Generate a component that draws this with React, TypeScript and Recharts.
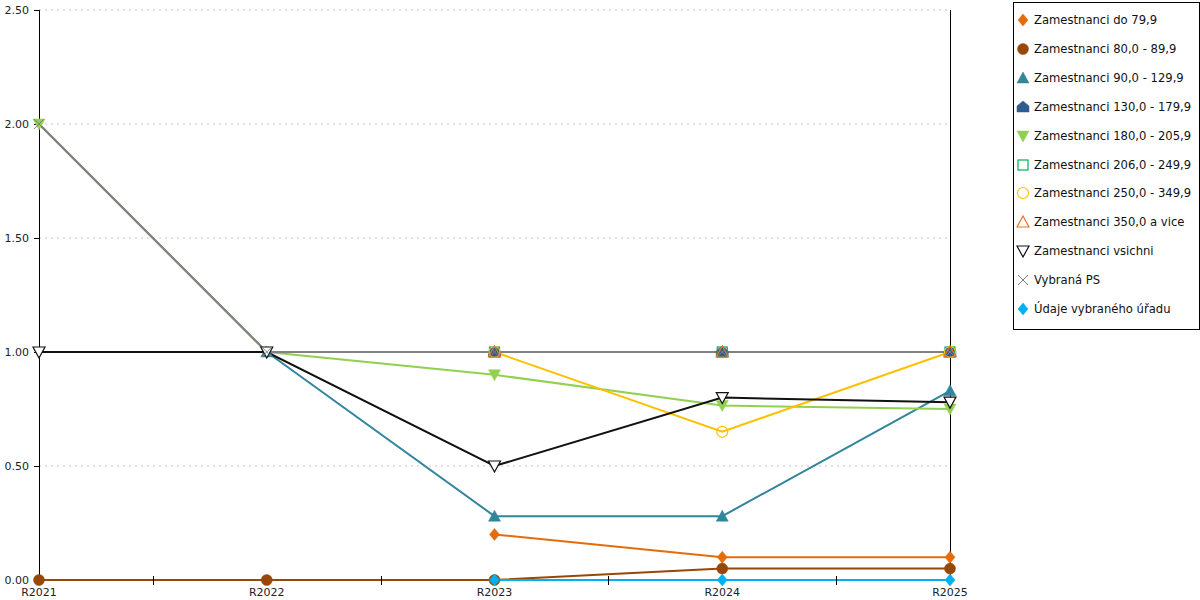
// Spojnicový graf zaměstnanců R2021–R2025 (Recharts)
import React from 'react'
import { LineChart, Line, XAxis, YAxis, CartesianGrid } from 'recharts'

const categories = ['R2021', 'R2022', 'R2023', 'R2024', 'R2025']
const do79 = [null, null, 0.2, 0.1, 0.1]
const z80 = [0, 0, 0, 0.05, 0.05]
const z90 = [null, 1, 0.28, 0.28, 0.83]
const z130 = [null, null, 1, 1, 1]
const z180 = [2, 1, 0.9, 0.765, 0.75]
const z206 = [null, null, 1, 1, 1]
const z250 = [null, null, 1, 0.65, 1]
const z350 = [null, null, 1, 1, 1]
const vsichni = [1, 1, 0.5, 0.8, 0.78]
const vybranaPS = [2, 1, 1, 1, 1]
const urad = [null, null, 0, 0, 0]
const yTicks = [0, 0.5, 1, 1.5, 2, 2.5]

type Shape = 'diamond' | 'circle' | 'tri' | 'house' | 'tridown' | 'square' | 'x'

const series: { key: string; name: string; values: (number | null)[]; color: string; shape: Shape; filled: boolean; width?: number }[] = [
  { key: 'do79', name: 'Zamestnanci do 79,9', values: do79, color: '#e46c0a', shape: 'diamond', filled: true },
  { key: 'z80', name: 'Zamestnanci 80,0 - 89,9', values: z80, color: '#974806', shape: 'circle', filled: true },
  { key: 'z90', name: 'Zamestnanci 90,0 - 129,9', values: z90, color: '#31859c', shape: 'tri', filled: true },
  { key: 'z130', name: 'Zamestnanci 130,0 - 179,9', values: z130, color: '#2f5b8f', shape: 'house', filled: true },
  { key: 'z180', name: 'Zamestnanci 180,0 - 205,9', values: z180, color: '#92d050', shape: 'tridown', filled: true },
  { key: 'z206', name: 'Zamestnanci 206,0 - 249,9', values: z206, color: '#00b050', shape: 'square', filled: false },
  { key: 'z250', name: 'Zamestnanci 250,0 - 349,9', values: z250, color: '#ffc000', shape: 'circle', filled: false },
  { key: 'z350', name: 'Zamestnanci 350,0 a vice', values: z350, color: '#f0702a', shape: 'tri', filled: false },
  { key: 'vsichni', name: 'Zamestnanci vsichni', values: vsichni, color: '#111', shape: 'tridown', filled: false },
  { key: 'ps', name: 'Vybraná PS', values: vybranaPS, color: '#808080', shape: 'x', filled: false, width: 2.2 },
  { key: 'urad', name: 'Údaje vybraného úřadu', values: urad, color: '#00b0f0', shape: 'diamond', filled: true },
]

const data = categories.map((c, i) => {
  const row: any = { name: c }
  series.forEach((s) => { row[s.key] = s.values[i] })
  return row
})

function Marker({ cx, cy, shape, color, filled }: { cx: number; cy: number; shape: Shape; color: string; filled: boolean }) {
  const fill = filled ? color : 'none'
  const sw = filled ? 0.5 : 1.2
  switch (shape) {
    case 'diamond':
      return <polygon points={`${cx},${cy - 6} ${cx + 5},${cy} ${cx},${cy + 6} ${cx - 5},${cy}`} fill={fill} stroke={color} strokeWidth={sw} />
    case 'circle':
      return <circle cx={cx} cy={cy} r={5.5} fill={fill} stroke={color} strokeWidth={sw} />
    case 'tri':
      return <polygon points={`${cx},${cy - 6} ${cx + 6},${cy + 5} ${cx - 6},${cy + 5}`} fill={fill} stroke={color} strokeWidth={sw} />
    case 'house':
      return <polygon points={`${cx},${cy - 6} ${cx + 6},${cy - 1} ${cx + 6},${cy + 5} ${cx - 6},${cy + 5} ${cx - 6},${cy - 1}`} fill={fill} stroke={color} strokeWidth={sw} />
    case 'tridown':
      return <polygon points={`${cx - 6},${cy - 5} ${cx + 6},${cy - 5} ${cx},${cy + 6}`} fill={fill === 'none' ? '#fff' : fill} stroke={color} strokeWidth={sw} />
    case 'square':
      return <rect x={cx - 5} y={cy - 5} width={10} height={10} fill={fill} stroke={color} strokeWidth={sw} />
    case 'x':
      return (
        <g stroke={color} strokeWidth={1}>
          <line x1={cx - 5} y1={cy - 5} x2={cx + 5} y2={cy + 5} />
          <line x1={cx - 5} y1={cy + 5} x2={cx + 5} y2={cy - 5} />
        </g>
      )
  }
  return null
}

const XTick = (props: any) => {
  const { x, y, payload, width } = props
  const step = width / (categories.length - 1)
  const last = payload.index >= categories.length - 1
  const tx = Math.round(x + step / 2) + 0.5
  return (
    <g>
      {!last && <line x1={tx} y1={y - 4} x2={tx} y2={y + 5} stroke="#000" />}
      <text x={x} y={y + 16} textAnchor="middle" fontSize={11} fill="#222">{payload.value}</text>
    </g>
  )
}

export default function App() {
  return (
    <div style={{ position: 'absolute', left: 0, top: 0, width: 1200, height: 600, background: '#fff', fontFamily: '"DejaVu Sans", sans-serif' }}>
      <LineChart width={1200} height={600} data={data} margin={{ top: 10, right: 249, bottom: 0, left: 0 }}>
        <CartesianGrid vertical={false} stroke="#c4c4c4" strokeDasharray="2 4" />
        <XAxis dataKey="name" height={20} tickSize={0} tickMargin={0} tickLine={false} axisLine={false} tick={<XTick />} interval={0} />
        <YAxis
          width={39}
          domain={[0, 2.5]}
          ticks={yTicks}
          tickFormatter={(v: number) => v.toFixed(2)}
          tickSize={5}
          tickMargin={5}
          tick={{ fontSize: 11, fill: '#222' }}
          tickLine={{ stroke: '#000', shapeRendering: 'crispEdges' }}
          axisLine={{ stroke: '#000', shapeRendering: 'crispEdges' }}
        />
        <YAxis yAxisId="r" orientation="right" width={1} tick={false} tickLine={false} axisLine={{ stroke: '#000', shapeRendering: 'crispEdges' }} />
        {series.map((s) => (
          <Line
            key={s.key}
            type="linear"
            dataKey={s.key}
            name={s.name}
            stroke={s.color}
            strokeWidth={s.width ?? 2}
            isAnimationActive={false}
            dot={(p: any) =>
              p.cy == null || p.value == null ? (
                <g key={`${s.key}-${p.index}`} />
              ) : (
                <g key={`${s.key}-${p.index}`}>
                  <Marker cx={p.cx} cy={p.cy} shape={s.shape} color={s.color} filled={s.filled} />
                </g>
              )
            }
            activeDot={false}
          />
        ))}
      </LineChart>
      <div style={{ position: 'absolute', left: 1013, top: 2, width: 187, height: 328, border: '1px solid #000', boxSizing: 'border-box', background: '#fff' }}>
        {series.map((s, i) => (
          <div key={s.key} style={{ position: 'absolute', left: 0, top: 10 + 28.9 * i, height: 14, whiteSpace: 'nowrap' }}>
            <svg width={14} height={14} style={{ position: 'absolute', left: 2, top: 0 }}>
              <Marker cx={7} cy={7} shape={s.shape} color={s.color} filled={s.filled} />
            </svg>
            <span style={{ position: 'absolute', left: 20, top: 0, fontSize: 11.6, lineHeight: '14px', color: '#111' }}>{s.name}</span>
          </div>
        ))}
      </div>
    </div>
  )
}
